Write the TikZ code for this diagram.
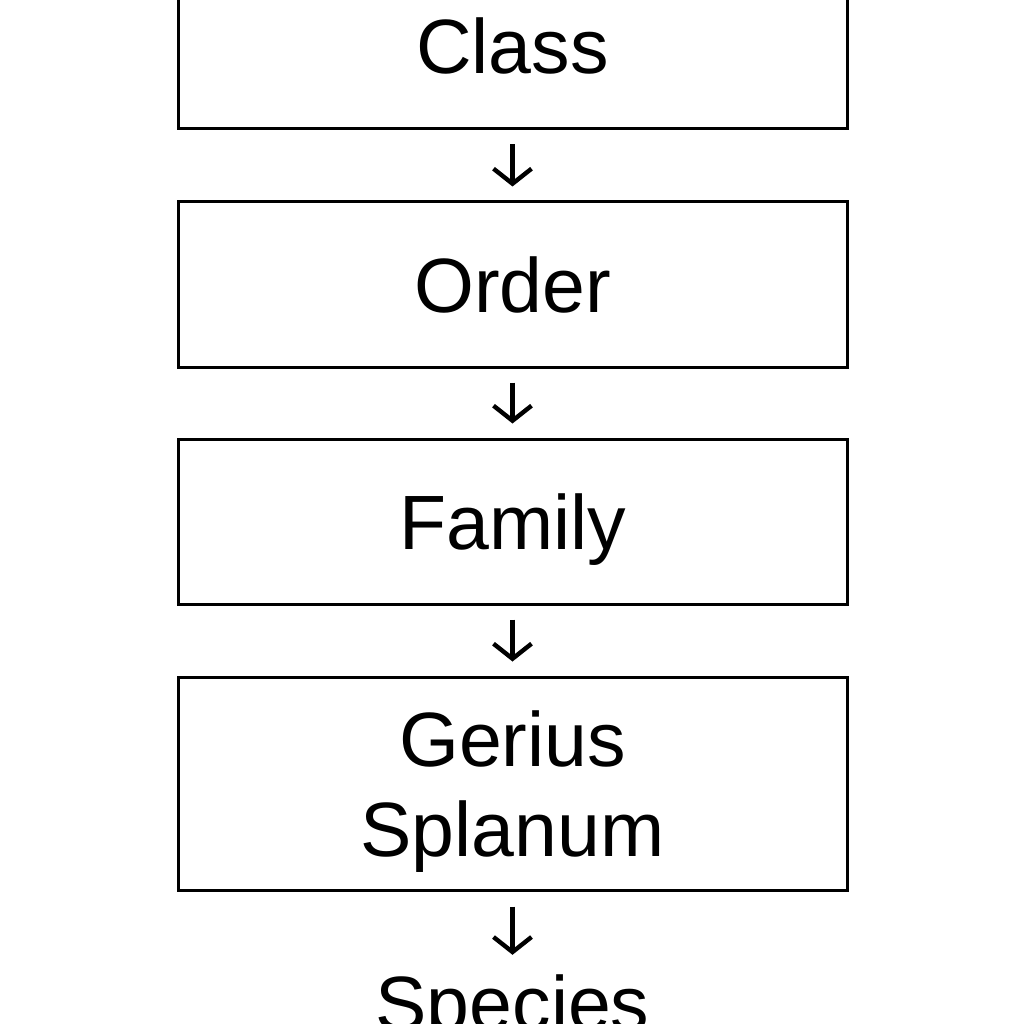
\documentclass[tikz,border=0pt]{standalone}
\usepackage{fontspec}
\setmainfont{Liberation Sans}
\usetikzlibrary{arrows.meta}
\begin{document}
\begin{tikzpicture}[x=1pt,y=-1pt,
  rank/.style={draw, line width=3pt, minimum width=669pt, minimum height=165pt, inner sep=0pt,
    font=\fontsize{77}{90}\selectfont, text height=55pt, text depth=0pt},
  down/.style={line width=4.4pt, -{Straight Barb[length=15pt,width=38pt]}, shorten <=14pt, shorten >=14pt}]
\useasboundingbox (0,0) rectangle (1024,1024);
\fill[white] (0,0) rectangle (1024,1024);
\clip (0,0) rectangle (1024,1024);
\node[rank] (class) at (512.5,46.5) {Class};
\node[rank] (order) at (512.5,284.5) {Order};
\node[rank] (family) at (512.5,521.5) {Family};
\node[rank, minimum height=213pt, align=center, text height=146pt] (genus) at (512.5,783.5) {Gerius\\Splanum};
\node[font=\fontsize{77}{90}\selectfont, inner sep=0pt, text height=55pt, anchor=base] (species) at (512.5,1030) {Species};
\draw[down] (class) -- (order);
\draw[down] (order) -- (family);
\draw[down] (family) -- (genus);
\draw[down, shorten <=15pt, shorten >=20pt] (genus) -- (species);
\end{tikzpicture}
\end{document}
